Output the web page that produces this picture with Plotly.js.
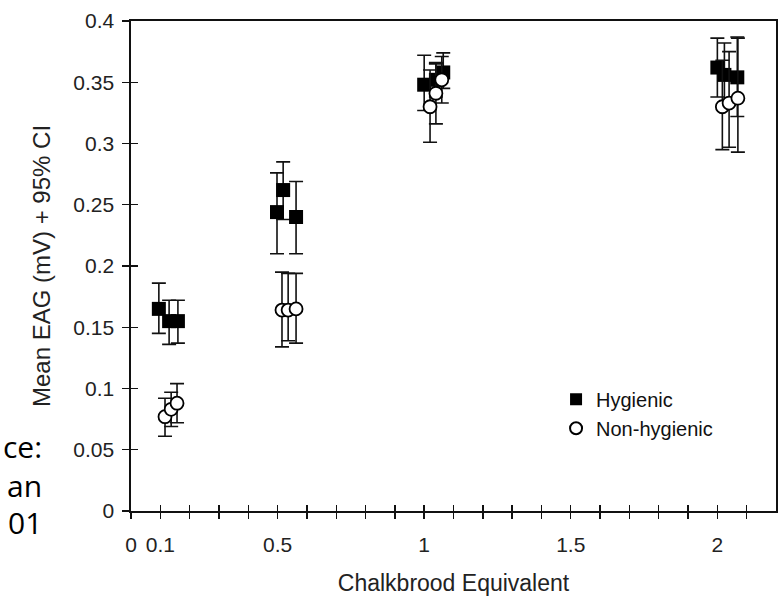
<!DOCTYPE html>
<html>
<head>
<meta charset="utf-8">
<script src="https://cdn.plot.ly/plotly-3.0.1.min.js"></script>
<style>
html,body{margin:0;padding:0;background:#fff;}
#chart{width:782px;height:601px;}
</style>
</head>
<body>
<div id="chart"></div>
<script>
// Hygienic colonies
var hygX  = [0.095, 0.130, 0.160, 0.498, 0.519, 0.563, 1.000, 1.040, 1.065, 2.000, 2.024, 2.068];
var hygY  = [0.165, 0.155, 0.155, 0.244, 0.262, 0.240, 0.348, 0.352, 0.358, 0.362, 0.356, 0.354];
var hygUp = [0.186, 0.172, 0.172, 0.276, 0.285, 0.269, 0.372, 0.365, 0.374, 0.386, 0.382, 0.387];
var hygLo = [0.145, 0.136, 0.137, 0.210, 0.238, 0.210, 0.327, 0.338, 0.345, 0.338, 0.332, 0.322];
// Non-hygienic colonies
var nonX  = [0.116, 0.137, 0.157, 0.515, 0.536, 0.563, 1.020, 1.040, 1.060, 2.017, 2.040, 2.070];
var nonY  = [0.077, 0.083, 0.088, 0.164, 0.164, 0.165, 0.330, 0.341, 0.352, 0.330, 0.333, 0.337];
var nonUp = [0.092, 0.097, 0.104, 0.195, 0.194, 0.194, 0.360, 0.366, 0.371, 0.368, 0.375, 0.386];
var nonLo = [0.061, 0.069, 0.072, 0.134, 0.139, 0.137, 0.301, 0.316, 0.333, 0.295, 0.297, 0.293];

// Axis ticks
var xTickVals = [0, 0.1, 0.2, 0.3, 0.4, 0.5, 0.6, 0.7, 0.8, 0.9, 1, 1.1, 1.2, 1.3, 1.4, 1.5, 1.6, 1.7, 1.8, 1.9, 2, 2.1];
var xTickText = ['0', '0.1', '', '', '', '0.5', '', '', '', '', '1', '', '', '', '', '1.5', '', '', '', '', '2', ''];
var yTickVals = [0, 0.05, 0.1, 0.15, 0.2, 0.25, 0.3, 0.35, 0.4];
var yTickText = ['0', '0.05', '0.1', '0.15', '0.2', '0.25', '0.3', '0.35', '0.4'];

// Cropped slide text at the left edge
var sideText = ['ce:', 'an', '01'];

function diff(a, b){ return a.map(function(v,i){ return v - b[i]; }); }

var FONT = 'Arial, "Liberation Sans", Helvetica, sans-serif';

var traces = [
  {
    type:'scatter', mode:'markers', name:'Hygienic',
    x: hygX, y: hygY,
    error_y: {type:'data', symmetric:false, array: diff(hygUp, hygY), arrayminus: diff(hygY, hygLo),
              color:'#111', thickness:1.6, width:7},
    marker: {symbol:'square', size:14, color:'#000', line:{color:'#000', width:0}}
  },
  {
    type:'scatter', mode:'markers', name:'Non-hygienic',
    x: nonX, y: nonY,
    error_y: {type:'data', symmetric:false, array: diff(nonUp, nonY), arrayminus: diff(nonY, nonLo),
              color:'#111', thickness:1.6, width:7},
    marker: {symbol:'circle', size:13, color:'#fff', line:{color:'#000', width:1.8}}
  },
  { type:'scatter', mode:'markers', x:[], y:[], xaxis:'x2', yaxis:'y2', showlegend:false, hoverinfo:'skip' }
];

var annotations = [
  {text: sideText[0], y: 0.131},
  {text: sideText[1], y: 0.053},
  {text: sideText[2], y: -0.024}
].map(function(a){
  return {text:a.text, xref:'paper', yref:'paper', x:-0.135, y:a.y, xanchor:'right', yanchor:'middle',
          showarrow:false, font:{family:'"Open Sans", "Liberation Sans", sans-serif', size:30, color:'#000'}};
});

var layout = {
  width:782, height:601,
  margin:{l:131, r:6, t:21, b:90},
  paper_bgcolor:'#fff', plot_bgcolor:'#fff',
  showlegend:true,
  legend:{x:0.659, y:0.268, xanchor:'left', yanchor:'top', bgcolor:'rgba(0,0,0,0)',
          font:{family:FONT, size:20, color:'#111'}, tracegroupgap:0, itemsizing:'constant'},
  xaxis:{range:[0, 2.2], tickmode:'array', tickvals:xTickVals, ticktext:xTickText,
         ticks:'outside', ticklen:6, tickwidth:1.4, tickcolor:'#111', ticklabelstandoff:8,
         showline:true, linecolor:'#111', linewidth:1.6, mirror:true, showgrid:false, zeroline:false,
         tickfont:{family:FONT, size:21, color:'#222'},
         title:{text:'Chalkbrood Equivalent', standoff:20, font:{family:FONT, size:23, color:'#222'}}},
  yaxis:{range:[0, 0.4], tickmode:'array', tickvals:yTickVals, ticktext:yTickText,
         ticks:'outside', ticklen:7, tickwidth:1.4, tickcolor:'#111', ticklabelstandoff:4,
         showline:true, linecolor:'#111', linewidth:1.6, mirror:true, showgrid:false, zeroline:false,
         tickfont:{family:FONT, size:21, color:'#222'},
         title:{text:'Mean EAG (mV) + 95% CI', standoff:16, font:{family:FONT, size:24, color:'#222'}}},
  xaxis2:{overlaying:'x', anchor:'y', range:[0, 2.2], tickmode:'array', tickvals:xTickVals, showticklabels:false,
          ticks:'inside', ticklen:6, tickwidth:1.4, tickcolor:'#111', showline:false, showgrid:false, zeroline:false},
  yaxis2:{overlaying:'y', anchor:'x', range:[0, 0.4], tickmode:'array', tickvals:yTickVals, showticklabels:false,
          ticks:'inside', ticklen:7, tickwidth:1.4, tickcolor:'#111', showline:false, showgrid:false, zeroline:false},
  annotations: annotations
};

Plotly.newPlot('chart', traces, layout, {displayModeBar:false, staticPlot:true});
</script>
</body>
</html>
